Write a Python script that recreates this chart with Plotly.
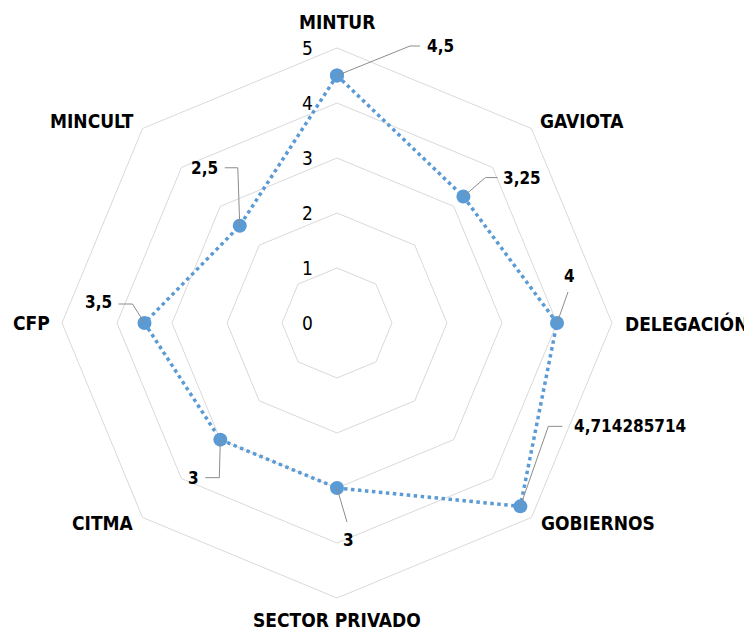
import math
import plotly.graph_objects as go

categories = ["MINTUR", "GAVIOTA", "DELEGACIÓN", "GOBIERNOS",
              "SECTOR PRIVADO", "CITMA", "CFP", "MINCULT"]
values = [4.5, 3.25, 4, 4.714285714, 3, 3, 3.5, 2.5]
radial_ticks = [0, 1, 2, 3, 4, 5]
r_max = 5

# page body has an 8px margin; figure sized so that nothing overflows
BODY = 8
W, H = 744, 624
CX, CY, R = 337, 323, 275  # polar centre / radius in window pixels

FONT = "DejaVu Sans Condensed, Liberation Sans Narrow, Arial Narrow, DejaVu Sans, sans-serif"
BLUE = "#5b9bd5"
GRID = "#d9d9d9"


def to_paper(px, py):
    return (px - BODY) / W, 1 - (py - BODY) / H


def polar_px(r, i, n):
    a = math.radians(90 - 360 / n * i)
    return CX + r / r_max * R * math.cos(a), CY - r / r_max * R * math.sin(a)


fig = go.Figure()
fig.add_trace(go.Scatterpolar(
    r=values + values[:1],
    theta=categories + categories[:1],
    mode="lines+markers",
    line=dict(color=BLUE, width=3.5, dash="dot"),
    marker=dict(color=BLUE, size=14),
    hoverinfo="skip",
))

dx0, dy1 = to_paper(CX - R, CY - R)
dx1, dy0 = to_paper(CX + R, CY + R)

fig.update_layout(
    width=W, height=H,
    margin=dict(l=0, r=0, t=0, b=0, pad=0),
    paper_bgcolor="white",
    plot_bgcolor="white",
    showlegend=False,
    font=dict(family=FONT, color="#000000"),
    polar=dict(
        domain=dict(x=[dx0, dx1], y=[dy0, dy1]),
        bgcolor="white",
        gridshape="linear",
        radialaxis=dict(
            range=[0, r_max],
            tickvals=radial_ticks,
            showticklabels=False,
            showline=False,
            ticks="",
            gridcolor=GRID,
            gridwidth=1,
            angle=90,
        ),
        angularaxis=dict(
            direction="clockwise",
            rotation=90,
            showgrid=False,
            showline=True,
            linecolor=GRID,
            linewidth=1,
            ticks="",
            showticklabels=False,
        ),
    ),
)

n = len(categories)

# radial tick labels (left of the vertical axis)
for t in radial_ticks:
    px, py = polar_px(t, 0, n)
    xp, yp = to_paper(px - 30, py)
    fig.add_annotation(x=xp, y=yp, xref="paper", yref="paper", text=str(t),
                       showarrow=False, xanchor="center", yanchor="middle",
                       font=dict(family=FONT, size=19, color="#000000"))

# category labels around the outer ring: (dx, dy screen-down, anchor)
cat_pos = [
    (0, -26, "center"),
    (7, -8, "left"),
    (11, 0, "left"),
    (8, 6, "left"),
    (0, 22, "center"),
    (-7, 6, "right"),
    (-10, 0, "right"),
    (-7, -8, "right"),
]
for i, c in enumerate(categories):
    px, py = polar_px(r_max, i, n)
    dx, dy, anc = cat_pos[i]
    xp, yp = to_paper(px + dx, py + dy)
    fig.add_annotation(x=xp, y=yp, xref="paper", yref="paper",
                       text=f"<b>{c}</b>", showarrow=False,
                       xanchor=anc, yanchor="middle",
                       font=dict(family=FONT, size=19, color="#000000"))

# data labels with leader lines (offsets in pixels, screen-down y)
leaders = [
    [(73, -29.5), (83, -29.5)],
    [(22, -19), (34, -19)],
    [(11, -31)],
    [(28, -80), (42, -80)],
    [(10, 34)],
    [(-1, 38), (-15, 38)],
    [(-12, -19), (-26, -19)],
    [(-2, -58), (-15, -58)],
]
label_pos = [
    (88, -29.5, "left"),
    (38, -19, "left"),
    (12, -47, "center"),
    (52, -80, "left"),
    (11, 52, "center"),
    (-19, 38, "right"),
    (-31, -21, "right"),
    (-20, -58, "right"),
]

for i, v in enumerate(values):
    px, py = polar_px(v, i, n)
    xp, yp = to_paper(px, py)
    path = "M 0 0 " + " ".join(f"L {dx} {-dy}" for dx, dy in leaders[i])
    fig.add_shape(type="path", xref="paper", yref="paper",
                  xsizemode="pixel", ysizemode="pixel",
                  xanchor=xp, yanchor=yp, path=path,
                  line=dict(color="#8c8c8c", width=1))
    dx, dy, anc = label_pos[i]
    fig.add_annotation(x=xp, y=yp, xref="paper", yref="paper",
                       text="<b>" + str(v).replace(".", ",") + "</b>",
                       showarrow=False, xanchor=anc, yanchor="middle",
                       xshift=dx, yshift=-dy,
                       font=dict(family=FONT, size=17, color="#000000"))

fig.write_html("out.html")
